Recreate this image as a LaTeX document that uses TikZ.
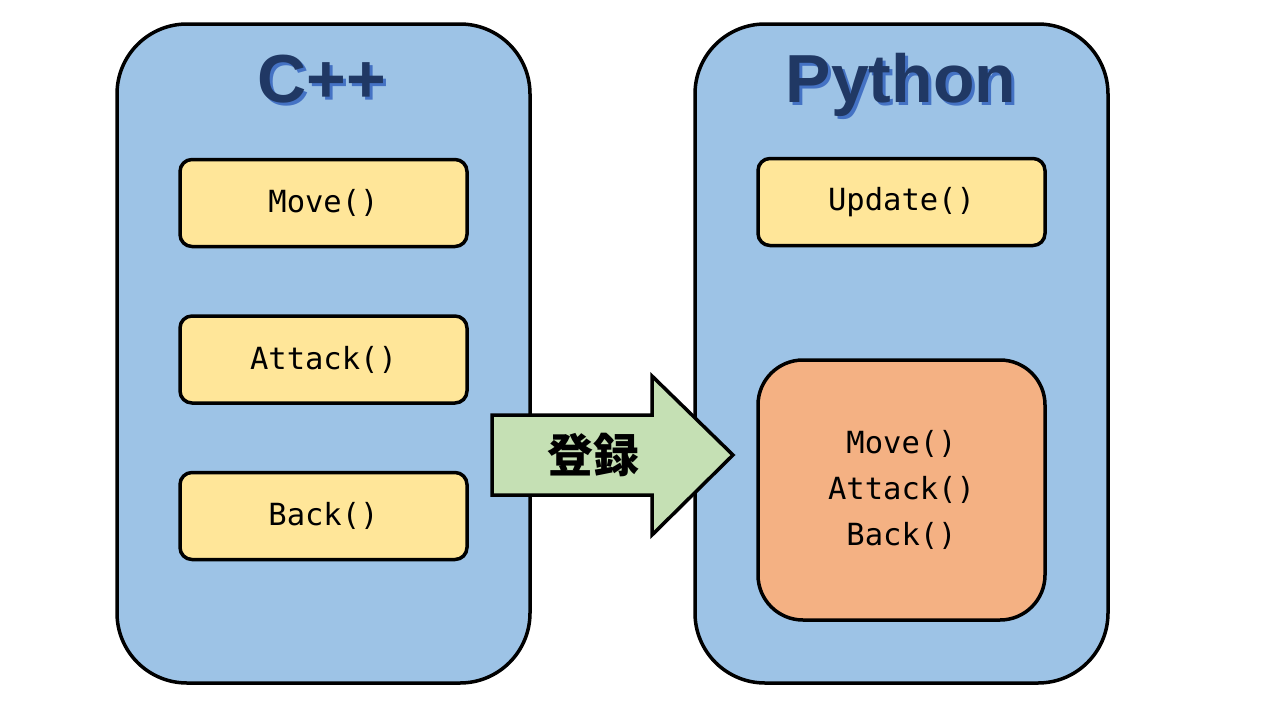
\documentclass[tikz,border=0pt]{standalone}
\usepackage{fontspec}
\setmainfont{Liberation Sans}
\setmonofont{DejaVu Sans Mono}
\newfontfamily\cjk{Noto Sans CJK JP}
\definecolor{contblue}{HTML}{9DC3E6}
\definecolor{titledark}{HTML}{203864}
\definecolor{titleshadow}{HTML}{4472C4}
\definecolor{funcyellow}{HTML}{FFE699}
\definecolor{regorange}{HTML}{F4B183}
\definecolor{arrowgreen}{HTML}{C5E0B4}
\newcommand{\shadowtitle}[1]{\makebox[0pt][l]{\hspace{3pt}\raisebox{-3pt}{\color{titleshadow}#1}}{\color{titledark}#1}}
\begin{document}
\begin{tikzpicture}[x=1pt,y=-1pt,
  container/.style={draw=black,line width=3.5pt,fill=contblue,rounded corners=70pt},
  funcbox/.style={draw=black,line width=3.5pt,fill=funcyellow,rounded corners=12pt,
    minimum width=287pt,minimum height=87pt,inner sep=0pt,
    font=\ttfamily\fontsize{30.5}{46}\selectfont},
  regbox/.style={draw=black,line width=3.5pt,fill=regorange,rounded corners=45pt,
    minimum width=287pt,minimum height=260pt,inner sep=0pt,align=center,
    font=\ttfamily\fontsize{30.5}{46}\selectfont},
  titletext/.style={font=\bfseries\fontsize{68}{70}\selectfont,inner sep=0pt,anchor=base}
]
\useasboundingbox (0,0) rectangle (1280,720);
\fill[white] (0,0) rectangle (1280,720);
% containers
\draw[container] (117,24) rectangle (530,683);
\draw[container] (695,24) rectangle (1108,683);
% titles with shadow
\node[titletext] (cpp) at (322,102) {\shadowtitle{C++}};
\node[titletext] (py) at (901,102) {\shadowtitle{Python}};
% left function boxes
\node[funcbox] (move) at (323.5,203) {Move()};
\node[funcbox] (attack) at (323.5,359.5) {Attack()};
\node[funcbox] (back) at (323.5,516) {Back()};
% right boxes
\node[funcbox] (update) at (901.5,202) {Update()};
\node[regbox] (reg) at (901.5,490) {Move()\\Attack()\\Back()};
% arrow
\draw[line width=3.5pt,fill=arrowgreen,line join=miter]
  (492,415) -- (652,415) -- (652,376) -- (733,455) -- (652,535) -- (652,495) -- (492,495) -- cycle;
\node[font=\cjk\bfseries\fontsize{46}{46}\selectfont,inner sep=0pt] (reglabel) at (593,455) {登録};
\end{tikzpicture}
\end{document}
